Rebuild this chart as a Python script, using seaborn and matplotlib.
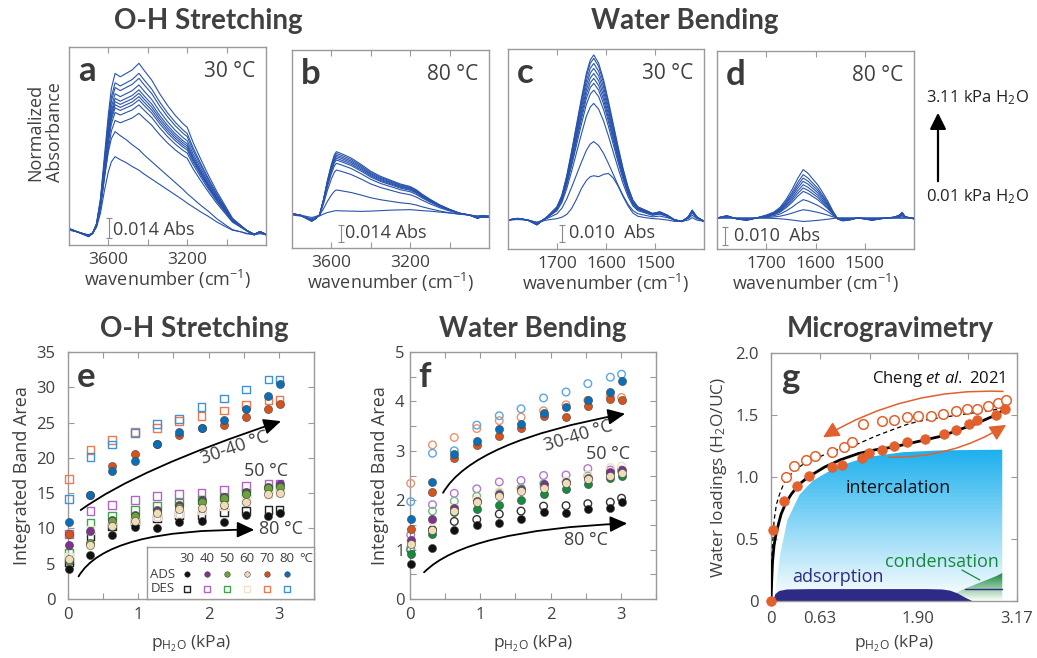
import numpy as np
import pandas as pd
import matplotlib
matplotlib.use('Agg')
import matplotlib.pyplot as plt
import matplotlib.colors as mcolors
from matplotlib.patches import FancyArrowPatch, PathPatch
from matplotlib.path import Path
import seaborn as sns

sns.set_theme(style='ticks')
plt.rcParams['font.family'] = ['Open Sans', 'DejaVu Sans']
plt.rcParams['mathtext.fontset'] = 'custom'
plt.rcParams['mathtext.rm'] = 'Open Sans'
plt.rcParams['mathtext.it'] = 'Open Sans:italic'
plt.rcParams['mathtext.bf'] = 'Open Sans:bold'
TITLE_FONT = ['Lato', 'DejaVu Sans']

# ---------------- DATA ----------------
# Panel a: O-H stretching, 30 C (relative band shapes + peak heights in Abs)
a_wn = [3800, 3760, 3720, 3700, 3680, 3660, 3640, 3620, 3600, 3585, 3566, 3540, 3510, 3480,
        3445, 3420, 3380, 3340, 3300, 3260, 3220, 3200, 3170, 3135, 3090, 3050, 3000, 2970,
        2930, 2900, 2860, 2830, 2800]
a_shape_hi = [0.02, 0.0, -0.02, -0.03, -0.01, 0.05, 0.2, 0.45, 0.7, 0.85, 0.94, 0.92, 0.94, 0.96,
              1.0, 0.96, 0.9, 0.82, 0.75, 0.69, 0.64, 0.62, 0.53, 0.44, 0.33, 0.24, 0.14, 0.08,
              0.04, 0.01, -0.02, 0.0, -0.02]
a_shape_lo = [0.02, 0.0, -0.03, -0.04, -0.02, 0.06, 0.25, 0.55, 0.8, 0.93, 1.0, 0.96, 0.92, 0.87,
              0.82, 0.77, 0.70, 0.63, 0.56, 0.49, 0.42, 0.38, 0.33, 0.27, 0.20, 0.13, 0.06, 0.02,
              0.0, -0.02, -0.03, -0.02, -0.03]
a_amp_hi = [0.1178, 0.1108, 0.1073, 0.1027, 0.0992, 0.0968, 0.0945, 0.0922, 0.0887, 0.0828]
a_amp_lo = [0.070, 0.0525]

# Panel b: O-H stretching, 80 C
b_wn = [3800, 3760, 3730, 3700, 3680, 3660, 3640, 3620, 3600, 3585, 3575, 3550, 3500, 3450,
        3400, 3350, 3300, 3250, 3200, 3170, 3140, 3100, 3050, 3000, 2950, 2900, 2860, 2830, 2800]
b_shape_hi = [0.02, 0.0, -0.05, -0.1, -0.06, 0.0, 0.25, 0.55, 0.8, 0.95, 1.0, 0.97, 0.9, 0.8,
              0.69, 0.61, 0.55, 0.49, 0.45, 0.40, 0.33, 0.25, 0.16, 0.09, 0.03, 0.0, -0.05, -0.03, -0.04]
b_shape_lo = [0.0, -0.2, -0.5, -0.8, -0.5, -0.2, 0.2, 0.5, 0.7, 0.85, 0.9, 0.85, 0.8, 0.75,
              0.8, 0.9, 1.0, 1.05, 1.1, 1.0, 0.9, 0.8, 0.6, 0.4, 0.2, 0.0, -0.2, -0.1, -0.2]
b_amp_hi = [0.0522, 0.0508, 0.0494, 0.0481, 0.0467, 0.0453, 0.0426, 0.0371, 0.0206]
b_amp_lo = [0.004]

# Panel c: water bending, 30 C
c_wn = [1800, 1780, 1760, 1741, 1720, 1700, 1690, 1680, 1670, 1660, 1650, 1640, 1632, 1625,
        1615, 1605, 1595, 1585, 1575, 1565, 1555, 1545, 1535, 1520, 1505, 1490, 1475, 1460,
        1445, 1432, 1424, 1415, 1400]
c_shape_hi = [0.0, 0.01, 0.0, -0.03, 0.02, 0.08, 0.15, 0.27, 0.42, 0.58, 0.74, 0.89, 0.97, 1.0,
              0.95, 0.85, 0.72, 0.58, 0.44, 0.31, 0.2, 0.12, 0.08, 0.06, 0.04, 0.05, 0.03, 0.0,
              -0.01, 0.02, 0.06, 0.02, -0.01]
c_shape_lo = [0.0, 0.01, 0.0, -0.05, 0.0, 0.03, 0.06, 0.12, 0.25, 0.45, 0.68, 0.85, 0.93, 0.95,
              0.93, 0.98, 1.0, 0.9, 0.72, 0.5, 0.3, 0.15, 0.08, 0.05, 0.03, 0.02, 0.0, -0.03,
              -0.03, 0.0, 0.05, 0.0, -0.03]
c_amp_hi = [0.0971, 0.0951, 0.0921, 0.0892, 0.0862, 0.0833, 0.0804, 0.0764, 0.0686, 0.0461]
c_amp_lo = [0.0274]

# Panel d: water bending, 80 C
d_wn = [1800, 1780, 1760, 1740, 1720, 1700, 1685, 1672, 1660, 1648, 1636, 1625, 1615, 1605,
        1595, 1585, 1575, 1565, 1555, 1545, 1530, 1515, 1500, 1485, 1470, 1455, 1440, 1430,
        1424, 1418, 1400]
d_shape = [0.0, 0.05, -0.02, -0.05, 0.0, 0.06, 0.12, 0.22, 0.38, 0.58, 0.82, 1.0, 0.92, 0.8,
           0.68, 0.52, 0.35, 0.15, -0.02, -0.06, -0.04, 0.0, -0.02, -0.05, -0.02, 0.0, 0.02, 0.06,
           0.12, 0.03, -0.02]
d_amp = [0.0269, 0.0241, 0.0222, 0.0204, 0.0185, 0.0167, 0.0148, 0.0102, 0.0046, -0.0019]

# Panels e, f: integrated band areas vs water pressure
pressure = [0.01, 0.32, 0.63, 0.95, 1.27, 1.58, 1.90, 2.22, 2.53, 2.85, 3.01]
temps = [30, 40, 50, 60, 70, 80]

e_ads_30 = [4.2, 6.3, 9.0, 10.2, 10.0, 10.9, 11.0, 10.9, 11.9, 11.8, 12.2]
e_des_30 = [5.2, 8.9, 10.3, 11.0, 11.4, 11.9, 11.9, 12.3, 12.5, 12.6, 12.6]
e_ads_40 = [7.6, 9.7, 11.2, 11.9, 12.6, 13.3, 14.0, 14.5, 15.1, 15.9, 16.3]
e_des_40 = [9.2, 12.5, 13.3, 14.0, 14.6, 14.9, 15.1, 15.5, 16.0, 16.3, 16.3]
e_ads_50 = [5.4, 7.9, 11.0, 11.7, 12.3, 13.1, 13.8, 14.3, 14.9, 15.7, 15.8]
e_des_50 = [6.5, 10.8, 11.8, 12.6, 13.2, 13.7, 14.0, 14.4, 15.0, 15.6, 15.7]
e_ads_60 = [5.7, 7.6, 10.3, 11.0, 12.2, 12.7, 12.9, 13.3, 13.7, 14.9, 15.0]
e_des_60 = [6.0, 9.8, 10.7, 11.2, 11.7, 12.2, 12.6, 13.1, 14.0, 14.8, 15.2]
e_ads_70 = [9.2, 14.8, 18.9, 20.6, 22.0, 23.3, 24.2, 24.7, 25.8, 26.9, 27.7]
e_des_70 = [17.0, 21.1, 22.5, 23.7, 24.2, 25.2, 25.9, 26.7, 27.5, 28.1, 28.2]
e_ads_80 = [10.9, 14.7, 18.1, 19.6, 21.9, 23.6, 24.2, 25.4, 26.9, 28.8, 30.4]
e_des_80 = [14.2, 20.1, 21.9, 23.5, 24.8, 25.5, 27.2, 28.4, 29.7, 31.1, 31.1]

f_ads_30 = [0.71, 1.04, 1.39, 1.49, 1.53, 1.62, 1.76, 1.74, 1.82, 1.85, 1.97]
f_des_30 = [1.00, 1.40, 1.57, 1.61, 1.72, 1.78, 1.88, 1.89, 1.93, 1.96, 2.04]
f_ads_40 = [1.20, 1.61, 1.85, 1.98, 2.12, 2.23, 2.32, 2.37, 2.44, 2.57, 2.61]
f_des_40 = [1.30, 1.91, 2.14, 2.23, 2.37, 2.40, 2.50, 2.51, 2.64, 2.61, 2.61]
f_ads_50 = [0.92, 1.32, 1.76, 1.82, 1.90, 2.00, 2.12, 2.22, 2.32, 2.44, 2.50]
f_des_50 = [1.03, 1.78, 1.98, 2.08, 2.15, 2.25, 2.33, 2.37, 2.49, 2.54, 2.59]
f_ads_60 = [1.11, 1.40, 1.78, 1.96, 2.08, 2.18, 2.24, 2.34, 2.42, 2.49, 2.56]
f_des_60 = [1.17, 1.57, 1.85, 2.01, 2.17, 2.22, 2.29, 2.39, 2.52, 2.66, 2.69]
f_ads_70 = [1.42, 2.16, 2.85, 3.11, 3.30, 3.47, 3.71, 3.68, 3.90, 4.04, 4.02]
f_des_70 = [2.34, 3.12, 3.27, 3.45, 3.61, 3.68, 3.81, 3.93, 4.02, 4.10, 4.08]
f_ads_80 = [1.62, 2.37, 2.93, 3.20, 3.45, 3.55, 3.76, 3.88, 4.02, 4.20, 4.42]
f_des_80 = [1.97, 2.95, 3.00, 3.52, 3.71, 3.85, 4.07, 4.19, 4.36, 4.49, 4.55]

# Panel g: microgravimetry (Cheng et al. 2021)
g_ads_p = [0.0, 0.03, 0.17, 0.34, 0.49, 0.78, 0.91, 1.17, 1.26, 1.43, 1.58, 1.75, 1.99, 2.23,
           2.38, 2.55, 2.66, 2.90, 3.01]
g_ads_n = [0.0, 0.57, 0.81, 0.93, 1.01, 1.08, 1.10, 1.15, 1.19, 1.22, 1.25, 1.28, 1.31, 1.35,
           1.38, 1.43, 1.46, 1.50, 1.55]
g_des_p = [0.19, 0.30, 0.45, 0.57, 0.79, 0.94, 1.04, 1.19, 1.43, 1.59, 1.75, 1.90, 2.06, 2.21,
           2.38, 2.53, 2.66, 2.79, 2.92, 3.03]
g_des_n = [1.00, 1.09, 1.14, 1.17, 1.20, 1.24, 1.28, 1.43, 1.45, 1.46, 1.48, 1.49, 1.49, 1.51,
           1.53, 1.55, 1.55, 1.57, 1.60, 1.62]
g_fit_p = [0, 0.01, 0.02, 0.04, 0.065, 0.1, 0.13, 0.19, 0.26, 0.36, 0.48, 0.69, 0.9, 1.13, 1.35,
           1.56, 1.78, 1.99, 2.2, 2.42, 2.64, 2.86, 3.03]
g_fit_n = [0, 0.18, 0.32, 0.45, 0.54, 0.63, 0.70, 0.79, 0.86, 0.94, 1.0, 1.08, 1.14, 1.19, 1.22,
           1.24, 1.27, 1.30, 1.33, 1.38, 1.43, 1.49, 1.55]
g_dfit_p = [0, 0.013, 0.04, 0.07, 0.11, 0.16, 0.22, 0.32, 0.43, 0.69, 0.9, 1.13, 1.35, 1.56,
            1.78, 1.99, 2.2, 2.42, 2.64, 2.86, 3.01]
g_dfit_n = [0, 0.38, 0.65, 0.78, 0.86, 0.94, 1.0, 1.06, 1.11, 1.18, 1.23, 1.27, 1.33, 1.38,
            1.43, 1.46, 1.48, 1.50, 1.52, 1.54, 1.56]
g_int_p = [0.04, 0.06, 0.12, 0.21, 0.37, 0.54, 0.84, 1.23, 1.7, 2.2, 2.98]
g_int_n = [0.0, 0.10, 0.38, 0.65, 0.86, 0.97, 1.08, 1.16, 1.20, 1.215, 1.22]
g_adsb_p = [0.02, 0.05, 0.1, 0.2, 0.5, 1.0, 1.5, 2.0, 2.2, 2.3, 2.4, 2.5, 2.6]
g_adsb_n = [0.0, 0.06, 0.085, 0.097, 0.1, 0.1, 0.1, 0.1, 0.097, 0.088, 0.065, 0.03, 0.0]
g_cond_p = [2.2, 2.3, 2.4, 2.5, 2.6, 2.7, 2.8, 2.9, 2.98]
g_cond_n = [0.0, 0.04, 0.07, 0.1, 0.125, 0.15, 0.175, 0.2, 0.225]

# ---------------- STYLE ----------------
W, H = 1037, 658
fig = plt.figure(figsize=(W / 100, H / 100), dpi=100)
TXT = '#404040'
FRAME = '#9a9a9a'
LINE = '#2853ad'
ads_col = {30: '#111111', 40: '#7d3391', 50: '#6aa636', 60: '#f1dcb8', 70: '#d8531c', 80: '#0a6fba'}
des_col = {30: '#222222', 40: '#b266c4', 50: '#3fa64a', 60: '#f3e2c8', 70: '#ec7a50', 80: '#3e92d8'}
f_ads_col = dict(ads_col); f_ads_col[50] = '#178a3c'
f_des_col = {30: '#333333', 40: '#b676d2', 50: '#6cc17e', 60: '#f4ddc6', 70: '#f0906c', 80: '#5aa6e2'}
ORANGE = '#e2602c'


def add_ax(x, y, w, h):
    return fig.add_axes([x / W, 1 - (y + h) / H, w / W, h / H])


def frame(ax):
    for s in ax.spines.values():
        s.set_visible(True)
        s.set_color(FRAME)
        s.set_linewidth(1.0)
    ax.tick_params(direction='in', color=FRAME, labelcolor=TXT, top=True, right=True,
                   length=4, width=0.8)


def letter_text(ax, x, y, s):
    ax.text(x, y, s, transform=ax.transAxes, fontsize=25, fontweight='bold', family=TITLE_FONT,
            color='#3a3a3a', va='top', ha='left')


def spectra(ax, wn, curves, xlim, ylim, ticks, labels, letter, temp, bar, bartxt):
    rows = []
    for i, (shape, amp) in enumerate(curves):
        for w_, v in zip(wn, shape):
            rows.append((i, w_, amp * v))
    df = pd.DataFrame(rows, columns=['curve', 'wn', 'absorb'])
    sns.lineplot(data=df, x='wn', y='absorb', units='curve', estimator=None, color=LINE,
                 lw=0.8, ax=ax, legend=False)
    ax.set_xlim(*xlim)
    ax.set_ylim(*ylim)
    frame(ax)
    ax.set_yticks([])
    ax.set_xticks(ticks)
    ax.set_xticklabels(labels, fontsize=12.5)
    ax.tick_params(axis='x', pad=5)
    ax.set_xlabel('wavenumber (cm$^{-1}$)', fontsize=13, color=TXT, labelpad=0)
    ax.set_ylabel('')
    letter_text(ax, 0.045, 0.96, letter)
    ax.text(0.945, 0.93, temp, transform=ax.transAxes, fontsize=15, color=TXT,
            va='top', ha='right')
    bx, b0, b1, tx, ty = bar
    ax.plot([bx, bx], [b0, b1], color='#8a8a8a', lw=0.8)
    ax.plot([bx, bx], [b0, b1], ls='none', marker='_', ms=4, mew=0.8, color='#8a8a8a')
    ax.text(tx, ty, bartxt, fontsize=13, color=TXT, va='center', ha='left')


axa = add_ax(69, 47, 197, 198)
spectra(axa, a_wn, [(a_shape_hi, v) for v in a_amp_hi] + [(a_shape_lo, v) for v in a_amp_lo],
        (3800, 2800), (-0.0093, 0.1292), [3600, 3400, 3200, 3000], ['3600', '', '3200', ''],
        'a', '30 °C', (3597, -0.0044, 0.0096, 3578, 0.0012), '0.014 Abs')

axb = add_ax(292, 50, 197, 198)
spectra(axb, b_wn, [(b_shape_hi, v) for v in b_amp_hi] + [(b_shape_lo, v) for v in b_amp_lo],
        (3800, 2800), (-0.0272, 0.136), [3600, 3400, 3200, 3000], ['3600', '', '3200', ''],
        'b', '80 °C', (3551, -0.022, -0.0082, 3530, -0.0148), '0.014 Abs')

axc = add_ax(508, 49, 196, 200)
spectra(axc, c_wn, [(c_shape_hi, v) for v in c_amp_hi] + [(c_shape_lo, v) for v in c_amp_lo],
        (1800, 1400), (-0.01706, 0.1006), [1700, 1600, 1500], ['1700', '1600', '1500'],
        'c', '30 °C', (1690, -0.01275, -0.00294, 1675, -0.0076), '0.010  Abs')

axd = add_ax(717, 51, 197, 198)
spectra(axd, d_wn, [(d_shape, v) for v in d_amp],
        (1800, 1400), (-0.01722, 0.0928), [1700, 1600, 1500], ['1700', '1600', '1500'],
        'd', '80 °C', (1784, -0.015, -0.0048, 1766, -0.0101), '0.010  Abs')

fig.text(45 / W, 1 - 132 / H, 'Normalized\nAbsorbance', rotation=90, fontsize=13, color=TXT,
         ha='center', va='center', linespacing=1.1)
fig.text(208 / W, 1 - 21 / H, 'O-H Stretching', fontsize=20, fontweight='bold', color=TXT,
         ha='center', va='center', family=TITLE_FONT)
fig.text(685 / W, 1 - 21 / H, 'Water Bending', fontsize=20, fontweight='bold', color=TXT,
         ha='center', va='center', family=TITLE_FONT)
fig.text(926 / W, 1 - 98 / H, '3.11 kPa H$_2$O', fontsize=12, color='#222222',
         ha='left', va='center')
fig.text(926 / W, 1 - 197 / H, '0.01 kPa H$_2$O', fontsize=12, color='#222222',
         ha='left', va='center')
fig.add_artist(FancyArrowPatch((938 / W, 1 - 184 / H), (938 / W, 1 - 110 / H),
                               transform=fig.transFigure, arrowstyle='-|>,head_length=0.7,head_width=0.35',
                               mutation_scale=14, color='black', lw=1.6))


# ---------------- e, f ----------------
def band_panel(ax, ads, des, acol, dcol, des_marker, ylim, yt, ylabels, letter, pad):
    for t in temps:
        sns.scatterplot(x=pressure, y=des[t], marker=des_marker, s=30, facecolor='none',
                        edgecolor=dcol[t], linewidth=1.0, ax=ax, zorder=3, clip_on=False)
    for t in temps:
        sns.scatterplot(x=pressure, y=ads[t], marker='o', s=34, color=acol[t],
                        edgecolor='#444444', linewidth=0.4, ax=ax, zorder=4, clip_on=False)
    ax.set_xlim(0, 3.5)
    ax.set_ylim(*ylim)
    frame(ax)
    ax.set_xticks([0, 0.5, 1, 1.5, 2, 2.5, 3, 3.5])
    ax.set_xticklabels(['0', '', '1', '', '2', '', '3', ''], fontsize=12)
    ax.set_yticks(yt)
    ax.set_yticklabels(ylabels, fontsize=12)
    ax.tick_params(axis='y', pad=pad)
    ax.tick_params(axis='x', pad=6)
    ax.set_xlabel(r'p$_{\mathrm{H_2O}}$ (kPa)', fontsize=12.5, color=TXT, labelpad=7)
    ax.set_ylabel('Integrated Band Area', fontsize=13, color=TXT)
    letter_text(ax, 0.035, 0.965, letter)


def curved_arrow(ax, p0, c, p1):
    path = Path([p0, c, p1], [Path.MOVETO, Path.CURVE3, Path.CURVE3])
    ar = FancyArrowPatch(path=path, arrowstyle='-|>,head_length=0.65,head_width=0.3',
                         mutation_scale=16, color='black', lw=1.3, zorder=5)
    ax.add_patch(ar)


axe = add_ax(68, 352, 246, 247)
e_ads = {30: e_ads_30, 40: e_ads_40, 50: e_ads_50, 60: e_ads_60, 70: e_ads_70, 80: e_ads_80}
e_des = {30: e_des_30, 40: e_des_40, 50: e_des_50, 60: e_des_60, 70: e_des_70, 80: e_des_80}
band_panel(axe, e_ads, e_des, ads_col, des_col, 's', (0, 35), list(range(0, 36, 5)),
           [str(v) for v in range(0, 36, 5)], 'e', 9)
curved_arrow(axe, (0.18, 12.6), (1.0, 18.5), (3.03, 25.2))
curved_arrow(axe, (0.15, 3.2), (0.55, 10.0), (2.65, 9.8))
axe.text(2.37, 21.4, '30-40 °C', fontsize=13, color=TXT, rotation=19, ha='center', va='center')
axe.text(2.82, 18.1, '50 °C', fontsize=13, color=TXT, ha='center', va='center')
axe.text(2.72, 9.9, '80 °C', fontsize=13, color=TXT, ha='left', va='center')

# legend box
leg = axe.inset_axes([0.32, 0.0, 0.68, 0.21])
leg.set_xlim(0, 1)
leg.set_ylim(0, 1)
leg.set_xticks([])
leg.set_yticks([])
for s in leg.spines.values():
    s.set_color(FRAME)
    s.set_linewidth(1.0)
leg.patch.set_facecolor('white')
leg_x = [0.24, 0.36, 0.48, 0.60, 0.72, 0.84]
for xx, t in zip(leg_x, temps):
    sns.scatterplot(x=[xx], y=[0.48], s=16, color=ads_col[t], edgecolor='#444444',
                    linewidth=0.4, ax=leg)
    sns.scatterplot(x=[xx], y=[0.2], marker='s', s=18, facecolor='none', edgecolor=des_col[t],
                    linewidth=1.0, ax=leg)
    leg.text(xx, 0.78, str(t), fontsize=9.5, color=TXT, ha='center', va='center')
leg.text(0.955, 0.78, '°C', fontsize=9.5, color=TXT, ha='center', va='center', clip_on=False)
leg.text(0.095, 0.48, 'ADS', fontsize=9.5, color=TXT, ha='center', va='center')
leg.text(0.095, 0.2, 'DES', fontsize=9.5, color=TXT, ha='center', va='center')

axf = add_ax(410, 352, 246, 247)
f_ads = {30: f_ads_30, 40: f_ads_40, 50: f_ads_50, 60: f_ads_60, 70: f_ads_70, 80: f_ads_80}
f_des = {30: f_des_30, 40: f_des_40, 50: f_des_50, 60: f_des_60, 70: f_des_70, 80: f_des_80}
band_panel(axf, f_ads, f_des, f_ads_col, f_des_col, 'o', (0, 5),
           [0, 0.5, 1, 1.5, 2, 2.5, 3, 3.5, 4, 4.5, 5],
           ['0', '', '1', '', '2', '', '3', '', '4', '', '5'], 'f', 4)
curved_arrow(axf, (0.47, 2.15), (0.9, 3.2), (3.06, 3.75))
curved_arrow(axf, (0.2, 0.54), (0.8, 1.4), (3.09, 1.53))
axf.text(2.4, 3.30, '30-40 °C', fontsize=13, color=TXT, rotation=17, ha='center', va='center')
axf.text(2.82, 2.93, '50 °C', fontsize=13, color=TXT, ha='center', va='center')
axf.text(2.51, 1.20, '80 °C', fontsize=13, color=TXT, ha='center', va='center')

fig.text(194 / W, 1 - 329 / H, 'O-H Stretching', fontsize=20, fontweight='bold', color=TXT,
         ha='center', va='center', family=TITLE_FONT)
fig.text(533 / W, 1 - 329 / H, 'Water Bending', fontsize=20, fontweight='bold', color=TXT,
         ha='center', va='center', family=TITLE_FONT)
fig.text(890 / W, 1 - 329 / H, 'Microgravimetry', fontsize=20, fontweight='bold', color=TXT,
         ha='center', va='center', family=TITLE_FONT)

# ---------------- g ----------------
axg = add_ax(771, 353, 246, 248)


def gradient_fill(ax, x, ytop, color, ymax, z):
    verts = list(zip(x, ytop)) + [(x[-1], 0), (x[0], 0)]
    patch = PathPatch(Path(verts), facecolor='none', edgecolor='none', transform=ax.transData)
    ax.add_patch(patch)
    cmap = mcolors.LinearSegmentedColormap.from_list('grad', ['white', color])
    grad = np.linspace(0, 1, 256).reshape(-1, 1)
    im = ax.imshow(grad, extent=[min(x), max(x), 0, ymax], origin='lower', aspect='auto',
                   cmap=cmap, zorder=z, interpolation='bilinear')
    im.set_clip_path(patch)


gradient_fill(axg, g_int_p, g_int_n, '#1cb0ee', max(g_int_n), 1)
gradient_fill(axg, g_cond_p, g_cond_n, '#17893a', max(g_cond_n), 1.5)
axg.fill_between(g_adsb_p, 0, g_adsb_n, color='#2e2b86', lw=0, zorder=2)
axg.plot([2.5, 2.98], [0.1, 0.1], color='#2e2b86', lw=1.0, zorder=2)
axg.plot([2.46, 2.69], [0.25, 0.17], color='#17893a', lw=0.9, zorder=2)
axg.text(2.2, 0.315, 'condensation', fontsize=13, color='#17893a', ha='center', va='center')
axg.text(0.86, 0.19, 'adsorption', fontsize=13, color='#2e2b86', ha='center', va='center')
axg.text(1.64, 0.91, 'intercalation', fontsize=13, color='#111111', ha='center', va='center')
axg.text(0.955, 0.935, r'Cheng $\mathit{et\ al.}$ 2021', transform=axg.transAxes, fontsize=12,
         color='#111111', ha='right', va='top')

sns.lineplot(x=g_dfit_p, y=g_dfit_n, color='black', lw=0.9, ls=(0, (3.5, 2.5)), ax=axg,
             zorder=3, sort=False)
sns.lineplot(x=g_fit_p, y=g_fit_n, color='black', lw=2.0, ax=axg, zorder=3, sort=False)
sns.scatterplot(x=g_des_p, y=g_des_n, marker='o', s=48, facecolor='white', edgecolor=ORANGE,
                linewidth=1.1, ax=axg, zorder=4, clip_on=False)
sns.scatterplot(x=g_ads_p, y=g_ads_n, marker='o', s=48, color=ORANGE, edgecolor=ORANGE,
                linewidth=0.5, ax=axg, zorder=5, clip_on=False)
axg.add_patch(FancyArrowPatch((2.99, 1.69), (0.67, 1.32), connectionstyle='arc3,rad=0.15',
                              arrowstyle='-|>,head_length=0.7,head_width=0.35', mutation_scale=14,
                              color=ORANGE, lw=1.1, shrinkA=0, shrinkB=0, zorder=6))
axg.add_patch(FancyArrowPatch((1.52, 1.16), (3.03, 1.42), connectionstyle='arc3,rad=0.15',
                              arrowstyle='-|>,head_length=0.7,head_width=0.35', mutation_scale=14,
                              color=ORANGE, lw=1.1, shrinkA=0, shrinkB=0, zorder=6))
axg.set_xlim(0, 3.17)
axg.set_ylim(0, 2.0)
frame(axg)
axg.set_xticks([0, 0.63, 1.27, 1.90, 2.54, 3.17])
axg.set_xticklabels(['0', '0.63', '', '1.90', '', '3.17'], fontsize=12)
axg.set_yticks([0, 0.5, 1.0, 1.5, 2.0])
axg.set_yticklabels(['0', '0.5', '1.0', '1.5', '2.0'], fontsize=12)
axg.tick_params(axis='y', pad=9)
axg.tick_params(axis='x', pad=7)
axg.set_xlabel(r'p$_{\mathrm{H_2O}}$ (kPa)', fontsize=12.5, color=TXT, labelpad=5)
axg.set_ylabel('Water loadings (H$_2$O/UC)', fontsize=12.5, color=TXT)
letter_text(axg, 0.04, 0.965, 'g')

fig.savefig('out.png', dpi=100)
